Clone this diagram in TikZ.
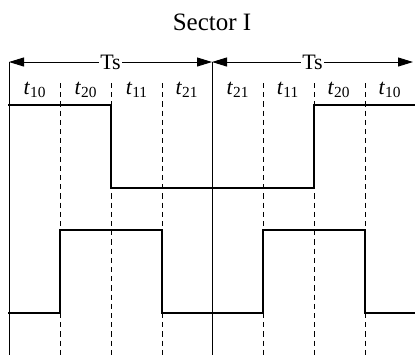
\documentclass[tikz,border=0pt]{standalone}
\usepackage{fontspec}
\setmainfont{Liberation Serif}
\usetikzlibrary{arrows.meta}
\begin{document}
\begin{tikzpicture}[x=0.5pt,y=-0.5pt,
    guide/.style={line width=0.5pt},
    sepline/.style={line width=0.5pt,dash pattern=on 2.6pt off 2pt},
    wave/.style={line width=1.2pt,line join=miter},
    span/.style={{Triangle[length=7.5pt,width=4.5pt]}-{Triangle[length=7.5pt,width=4.5pt]},line width=0.5pt},
    tlbl/.style={font=\fontsize{11}{13}\selectfont},
    ts/.style={fill=white,inner sep=0.8pt,font=\fontsize{11}{13}\selectfont}
  ]
  \useasboundingbox (0,0) rectangle (415,355);
  \node[font=\fontsize{12.5}{15}\selectfont] (title) at (212,22) {Sector I};
  % period boundaries
  \coordinate (p0) at (9,62);
  \coordinate (p1) at (212,62);
  \coordinate (p2) at (413,62);
  \draw[guide] (p0) -- (9,355);
  \draw[guide] (p1) -- (212,355);
  \draw[span] (p0) -- (p1) node[midway,ts] (ts1) {Ts};
  \draw[span] (p1) -- (p2) node[midway,ts] (ts2) {Ts};
  % interval borders
  \foreach \x in {60,111,162,263,314,365}
    \draw[sepline] (\x,83) -- (\x,355);
  \foreach \x/\s [count=\i] in {35/10,86/20,137/11,187/21,238/21,288/11,339/20,390/10}
    \node[tlbl] (t\i) at (\x,90) {\textit{t}\textsubscript{\s}};
  % switching signals
  \draw[wave] (8,105) -| (111,188) -| (314,105) -- (415,105);
  \draw[wave] (8,313) -| (60,230) -| (162,313) -| (263,230) -| (365,313) -- (415,313);
\end{tikzpicture}
\end{document}
